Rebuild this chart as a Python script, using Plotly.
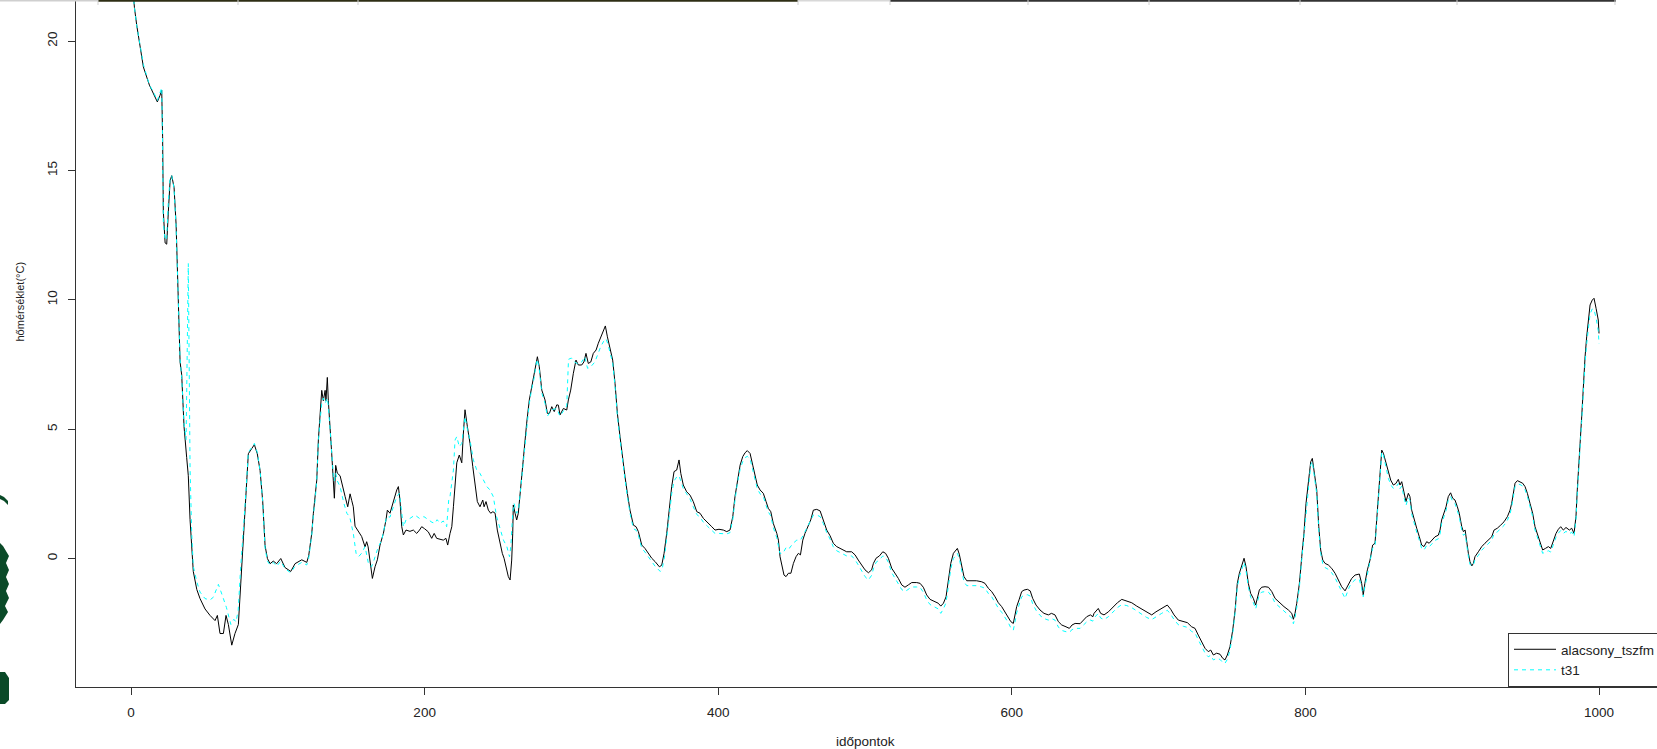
import plotly.graph_objects as go

# ---------------- data ----------------
series_names = ["alacsony_tszfm", "t31"]

alacsony_t = [1, 2.3, 3.9, 6.6, 8.4, 12.5, 15.2, 17.9, 19.7, 20.9, 21.5, 22.0, 23.2, 24.3, 25.4, 26.6, 27.7, 29.3, 30.7, 31.5,
    32.7, 33.4, 34.5, 35.2, 36.1, 37.9, 39.0, 40.2, 41.3, 42.4, 44.8, 47, 50.4, 53.8, 57.2, 58.8, 60.6, 62.9, 64.7, 66.3,
    68.6, 70.8, 73.1, 74.7, 77, 78.3, 79.9, 82.2, 84, 86, 87.9, 89.7, 91.3, 92.9, 94.7, 96.9, 99.2, 102, 104.9, 108.8,
    111.7, 116.3, 119.7, 121, 123.1, 124.2, 125.3, 126.5, 127.6, 128.7, 129.9, 131, 132.2, 132.8, 133.7, 134.4, 135.6, 136.7, 137.8, 138.5,
    139.4, 140.5, 142.4, 143.5, 145.8, 147.6, 149.2, 150.3, 151.4, 152.6, 154.2, 157.1, 159.4, 160.5, 161.5, 162.8, 164.4, 166.2, 167.8, 169.6,
    171.9, 173.7, 174.6, 176.4, 178.3, 179.8, 181, 182.1, 183.2, 184.4, 185.5, 187.3, 190, 192.3, 194.6, 196.5, 198, 200, 202.5, 204.8,
    206.5, 208.2, 210.5, 212.7, 214.5, 215.7, 217.3, 218.5, 219.6, 220.7, 221.9, 223.6, 225.3, 226.4, 227.5, 229.1, 230.9, 232.8, 234.3, 235.9,
    237.7, 239.6, 240.5, 241.8, 243.4, 245, 246.5, 248, 249.5, 251.4, 252.9, 254.1, 255.4, 257, 258.2, 259.3, 260, 260.4, 261.6, 262.7,
    263.8, 265, 266.1, 267.7, 269.5, 271.3, 272.9, 274.5, 275.9, 276.8, 278.1, 279.8, 282, 283.6, 285, 286.6, 288.3, 290, 291.1, 292.2,
    294.5, 296.8, 297.9, 299.5, 301.3, 303.1, 304.7, 307, 308.5, 309.9, 311.5, 313.2, 314.9, 316.8, 318.3, 320, 321.7, 323.1, 324.5, 326.3,
    328.1, 329.7, 331.3, 333.1, 334.9, 336.5, 338.1, 339.9, 342.2, 344, 345.6, 347.9, 350.1, 352.4, 354.7, 357, 359.9, 361.5, 363.1, 364.9,
    366.7, 368.3, 369.9, 371.7, 373.3, 374.5, 376.2, 378.5, 380.8, 383, 385.4, 387.6, 389.9, 392.6, 395.6, 397.8, 400.5, 403.5, 405.8, 408,
    409.9, 411.4, 413, 414.9, 416.7, 418.3, 419.8, 421.7, 423.5, 425.1, 426.6, 428.5, 430.7, 432.6, 434.1, 435.8, 437.5, 439.9, 441, 442.1,
    443.3, 444.8, 446.2, 447.8, 449.5, 451.2, 453, 454.6, 456, 457.6, 459.1, 461.4, 463, 464.8, 467.1, 469.4, 471.6, 473.9, 476.2, 478.4,
    480.7, 484.1, 487.5, 490.9, 493.2, 495.4, 497.7, 500, 502.3, 504.5, 505.7, 507.5, 509.8, 512.1, 514, 515.9, 518.2, 520.4, 522.7, 525,
    527.2, 529.5, 531.8, 535.2, 537.5, 539.7, 542, 544.3, 547.7, 549.9, 551.6, 553.4, 555.2, 556.7, 558.4, 560.2, 562, 562.9, 564.2, 565.9,
    567.4, 569.3, 572.7, 576, 579.5, 581.7, 584, 586.3, 588.6, 590.8, 593.1, 595.4, 597.6, 599.3, 601, 602, 603.3, 604.9, 606.7, 608.3,
    610.6, 612.5, 614.2, 616.5, 619.2, 621.9, 624.9, 627, 629.4, 631.7, 634, 636.9, 639.2, 641, 643.1, 646.5, 648.7, 651, 653.5, 655.2,
    656, 657.8, 658.9, 660.5, 662.8, 665.8, 669.1, 671.9, 674.9, 678.3, 681.7, 685.1, 688.5, 691.9, 695.3, 698.2, 702.1, 705.9, 708.2, 710.5,
    713.4, 716.8, 719.6, 722.5, 724.8, 727, 729.3, 731.6, 733.8, 735.5, 737.3, 739.5, 741.8, 743.7, 745.2, 746.8, 748.6, 750.5, 752.1, 753.6,
    755, 756.6, 758.2, 759.5, 761.1, 762.7, 764.5, 766.1, 767.2, 768.6, 770.2, 772.5, 774.8, 777.1, 779.3, 782.7, 785.4, 788.4, 790.7, 791.8,
    792.9, 794.1, 795.9, 797.5, 799, 800.4, 802, 803.6, 804.7, 805.9, 807.7, 809.1, 810.4, 811.8, 813.4, 815.6, 817.9, 820.2, 822.4, 824.7,
    827, 829.9, 831.5, 833.8, 836.7, 838.3, 839.4, 840.5, 842.2, 844, 845.8, 847.4, 848.6, 849.7, 850.8, 852, 853.1, 854.9, 856.5, 858.1,
    859.9, 861.6, 863.3, 864.4, 865.6, 867.2, 868.5, 870.1, 871.2, 872.4, 874, 875.8, 877.6, 879.2, 880.8, 882.6, 884.3, 886, 888.3, 890.5,
    891.7, 892.8, 894.4, 895.8, 897.3, 898.9, 900.3, 901.9, 903.5, 904.8, 906.5, 907.6, 908.8, 909.9, 911, 912.1, 913.3, 914.4, 915.5, 917.8,
    920.1, 922.3, 924.6, 926.9, 928.5, 930.7, 933, 935.3, 937.6, 939.4, 940.5, 941.6, 942.8, 944.4, 946.2, 948, 949.6, 951.2, 953, 954.8,
    956.4, 957.6, 958.7, 960.3, 961.6, 963.5, 965.5, 967.1, 968.9, 970.7, 972.3, 973.9, 975.7, 977.5, 979.8, 981.4, 983, 984.3, 985.2, 985.9,
    987.1, 988.2, 989.3, 990.5, 991.6, 992.7, 993.9, 995.4, 996.6, 998, 999.5, 1000]

alacsony_v = [22.2, 21.3, 20.6, 19.55, 19.0, 18.3, 18.0, 17.65, 17.9, 18.1, 16.3, 13.4, 12.2, 12.15, 13.4, 14.6, 14.8, 14.35, 12.9, 11.4,
    8.8, 7.6, 7.1, 6.3, 5.1, 3.9, 3.2, 1.5, 0.3, -0.5, -1.2, -1.55, -1.95, -2.2, -2.4, -2.2, -2.9, -2.9, -2.2, -2.55,
    -3.35, -2.9, -2.55, -1.05, 1.2, 2.55, 4.05, 4.25, 4.4, 4.05, 3.4, 2.2, 0.5, 0.0, -0.2, -0.1, -0.2, 0.0, -0.35, -0.5,
    -0.2, -0.05, -0.15, 0.1, 0.97, 1.75, 2.26, 3.03, 4.58, 5.48, 6.5, 6.1, 6.5, 6.1, 7.0, 6.1, 5.2, 4.05, 3.0, 2.33,
    3.6, 3.3, 3.2, 2.9, 2.4, 2.0, 2.5, 2.25, 2.0, 1.25, 1.1, 0.85, 0.45, 0.65, 0.45, -0.2, -0.77, -0.32, -0.05, 0.52,
    0.97, 1.5, 1.87, 1.75, 2.13, 2.4, 2.65, 2.78, 2.26, 1.23, 0.91, 1.1, 1.05, 1.1, 0.97, 1.1, 1.23, 1.15, 1.03, 0.78,
    0.97, 0.78, 0.74, 0.71, 0.78, 0.52, 0.97, 1.23, 2.0, 2.9, 3.7, 4.0, 3.7, 4.85, 5.75, 5.1, 4.45, 3.55, 2.78, 2.2,
    2.0, 2.26, 2.0, 2.2, 1.87, 1.75, 1.81, 1.75, 1.1, 0.59, 0.2, 0.01, -0.32, -0.7, -0.83, -0.06, 0.97, 2.07, 1.75, 1.49,
    1.75, 2.52, 3.29, 4.19, 5.23, 6.13, 6.64, 7.03, 7.61, 7.8, 7.41, 6.51, 6.13, 5.61, 5.61, 5.87, 5.68, 5.94, 5.93, 5.55,
    5.8, 5.74, 6.13, 6.51, 7.16, 7.67, 7.48, 7.48, 7.6, 7.93, 7.54, 7.6, 7.93, 8.06, 8.32, 8.57, 8.77, 8.99, 8.57, 8.06,
    7.67, 6.77, 5.61, 4.71, 3.81, 3.16, 2.52, 1.87, 1.29, 1.23, 1.04, 0.52, 0.39, 0.2, 0.01, -0.12, -0.32, -0.26, 0.2, 0.97,
    2.0, 2.78, 3.36, 3.42, 3.81, 3.29, 2.84, 2.58, 2.45, 2.2, 1.81, 1.75, 1.55, 1.38, 1.23, 1.1, 1.13, 1.1, 1.04, 1.1,
    1.62, 2.39, 3.03, 3.61, 3.94, 4.09, 4.17, 4.06, 3.61, 3.16, 2.84, 2.65, 2.52, 2.2, 1.94, 1.81, 1.36, 0.97, 0.71, 0.07,
    -0.32, -0.64, -0.7, -0.57, -0.57, -0.19, 0.07, 0.2, 0.14, 0.71, 0.97, 1.29, 1.49, 1.87, 1.9, 1.84, 1.49, 1.1, 0.88, 0.59,
    0.46, 0.36, 0.26, 0.26, 0.14, -0.06, -0.25, -0.44, -0.55, -0.44, -0.19, 0.01, 0.1, 0.26, 0.2, 0.01, -0.38, -0.57, -0.77, -1.02,
    -1.11, -1.02, -0.93, -0.93, -0.96, -1.11, -1.41, -1.58, -1.67, -1.73, -1.84, -1.73, -1.48, -0.83, -0.19, 0.2, 0.33, 0.39, 0.17, -0.32,
    -0.7, -0.86, -0.86, -0.86, -0.9, -0.96, -1.15, -1.28, -1.48, -1.71, -1.86, -2.06, -2.25, -2.44, -2.51, -2.25, -1.86, -1.6, -1.28, -1.22,
    -1.19, -1.25, -1.54, -1.8, -1.99, -2.12, -2.18, -2.12, -2.18, -2.44, -2.57, -2.64, -2.7, -2.57, -2.51, -2.52, -2.38, -2.25, -2.18, -2.25,
    -2.12, -1.99, -1.93, -2.12, -2.18, -2.06, -1.86, -1.71, -1.58, -1.63, -1.71, -1.84, -1.96, -2.09, -2.18, -2.06, -1.93, -1.8, -1.96, -2.18,
    -2.38, -2.44, -2.48, -2.64, -2.7, -2.96, -3.22, -3.47, -3.6, -3.54, -3.73, -3.66, -3.7, -3.86, -3.92, -3.73, -3.41, -2.76, -1.99, -0.96,
    -0.57, -0.25, 0.01, -0.31, -0.96, -1.35, -1.54, -1.8, -1.48, -1.22, -1.11, -1.09, -1.11, -1.28, -1.54, -1.73, -1.86, -1.99, -2.12, -2.35,
    -2.12, -1.73, -0.96, 0.07, 0.97, 2.13, 3.03, 3.74, 3.87, 3.42, 2.65, 1.23, 0.33, -0.06, -0.19, -0.25, -0.38, -0.57, -0.83, -1.09,
    -1.25, -0.9, -0.77, -0.64, -0.6, -0.96, -1.41, -0.96, -0.44, -0.06, 0.52, 0.59, 1.62, 2.65, 3.55, 4.19, 4.07, 3.68, 3.29, 3.03,
    2.84, 2.9, 3.06, 2.84, 2.97, 2.52, 2.2, 2.52, 2.39, 1.87, 1.49, 1.17, 0.84, 0.52, 0.46, 0.65, 0.59, 0.71, 0.84, 0.9,
    1.1, 1.49, 1.75, 2.0, 2.39, 2.54, 2.33, 2.26, 2.0, 1.75, 1.23, 1.04, 1.1, 0.59, 0.2, -0.12, -0.29, -0.19, 0.07, 0.26,
    0.46, 0.59, 0.71, 0.84, 1.1, 1.17, 1.29, 1.42, 1.62, 1.87, 2.13, 2.52, 2.91, 3.01, 2.97, 2.91, 2.78, 2.52, 2.13, 1.75,
    1.23, 1.04, 0.84, 0.59, 0.33, 0.39, 0.46, 0.39, 0.71, 0.97, 1.13, 1.23, 1.1, 1.2, 1.1, 1.17, 0.97, 1.62, 2.65, 3.55,
    4.45, 5.48, 6.77, 7.8, 8.57, 9.22, 9.8, 9.99, 10.06, 9.67, 9.22, 8.7]

t31_t = [1, 2.3, 3.9, 6.6, 8.4, 12.5, 15.2, 17.9, 19.7, 20.9, 21.5, 22.0, 23.2, 24.3, 25.4, 26.6, 27.7, 29.3, 30.7, 31.5,
    32.7, 33.4, 34.5, 35.2, 36.1, 37.5, 38.5, 39.0, 39.6, 40.2, 41.3, 42.4, 44.8, 47, 50.4, 53.8, 56, 57.5, 59.5, 62,
    65, 68, 70, 71.5, 73, 74.5, 77, 78.3, 79.9, 82.2, 84, 86, 87.9, 89.7, 91.3, 92.9, 94.7, 96.9, 99.2, 102,
    104.9, 108.8, 111.7, 116.3, 119.7, 121, 123.1, 124.2, 125.3, 126.5, 127.6, 128.7, 129.9, 131, 132.2, 133.7, 134.4, 135.6, 136.7, 137.8,
    138.5, 139.4, 140.5, 142.4, 145, 147, 149, 151.4, 153.3, 155, 157, 159.4, 161.7, 163.8, 165.5, 168.5, 170.8, 174.1, 176.4, 178.3,
    181, 182.8, 184.4, 185.5, 187.3, 190, 193.4, 196.5, 199.5, 202.5, 205, 207, 208.5, 210.5, 212.7, 215, 216.4, 217.3, 219.6, 220.7,
    221.9, 223.6, 225.3, 226.4, 227.5, 229.1, 230.9, 233.2, 235.5, 237.7, 240.1, 242.4, 244.5, 246.8, 249, 251.4, 253.7, 256, 257.8, 258.7,
    260, 260.9, 262.7, 264, 265, 266.1, 267.7, 269.5, 271.3, 272.9, 274.5, 275.9, 276.8, 278.1, 279.8, 282, 283.6, 286.6, 290, 292.2,
    294.5, 296.8, 298, 300, 302, 305, 307, 309, 311, 313, 316, 318, 320, 322, 323.5, 324.8, 326.3, 328.1, 329.7, 331.3,
    333.1, 334.9, 336.5, 338.1, 339.9, 342.2, 344, 345.6, 347.9, 350.1, 352.4, 354.7, 357, 360.5, 362, 363.5, 364.9, 366.7, 368.3, 369.9,
    371.7, 373.3, 374.5, 376.2, 378.5, 380.8, 383, 385.4, 387.6, 389.9, 392.6, 395.6, 397.8, 400.5, 403.5, 405.8, 408, 409.9, 411.4, 413,
    414.9, 416.7, 418.3, 419.8, 421.7, 423.5, 425.1, 426.6, 428.5, 430.7, 432.6, 434.1, 435.8, 437.5, 439.9, 442, 444, 446.6, 448.5, 451,
    453.5, 456, 458, 460.6, 464.8, 467.1, 469.4, 471.6, 473.9, 476.2, 478.4, 480.7, 484.1, 487.5, 490.9, 493.2, 495.4, 497.7, 500, 502.3,
    504.5, 505.7, 507.5, 509.8, 512.1, 514, 515.9, 518.2, 520.4, 522.7, 525, 527.2, 529.5, 531.8, 535.2, 537.5, 539.7, 542, 544.3, 547.7,
    549.9, 551.6, 553.4, 555.2, 556.7, 558.4, 560.2, 562, 562.9, 564.2, 565.9, 567.4, 569.3, 572.7, 576, 579.5, 581.7, 584, 586.3, 588.6,
    590.8, 593.1, 595.4, 597.6, 599.3, 601, 602, 603.3, 604.9, 606.7, 608.3, 610.6, 612.5, 614.2, 616.5, 619.2, 621.9, 624.9, 627, 629.4,
    631.7, 634, 636.9, 639.2, 641, 643.1, 646.5, 648.7, 651, 653.5, 655.2, 656, 657.8, 658.9, 660.5, 662.8, 665.8, 669.1, 671.9, 674.9,
    678.3, 681.7, 685.1, 688.5, 691.9, 695.3, 698.2, 702.1, 705.9, 708.2, 710.5, 713.4, 716.8, 719.6, 722.5, 724.8, 727, 729.3, 731.6, 733.8,
    735.5, 737.3, 739.5, 741.8, 743.7, 745.2, 746.8, 748.6, 750.5, 752.1, 753.6, 755, 756.6, 758.2, 759.5, 761.1, 762.7, 764.5, 766.1, 767.2,
    768.6, 770.2, 772.5, 774.8, 777.1, 779.3, 782.7, 785.4, 788.4, 790.7, 791.8, 792.9, 794.1, 795.9, 797.5, 799, 800.4, 802, 803.6, 804.7,
    805.9, 807.7, 809.1, 810.4, 811.8, 813.4, 815.6, 817.9, 820.2, 822.4, 824.7, 827, 829.9, 831.5, 833.8, 836.7, 838.3, 839.4, 840.5, 842.2,
    844, 845.8, 847.4, 848.6, 849.7, 850.8, 852, 853.1, 854.9, 856.5, 858.1, 859.9, 861.6, 863.3, 864.4, 865.6, 867.2, 868.5, 870.1, 871.2,
    872.4, 874, 875.8, 877.6, 879.2, 880.8, 882.6, 884.3, 886, 888.3, 890.5, 891.7, 892.8, 894.4, 895.8, 897.3, 898.9, 900.3, 901.9, 903.5,
    904.8, 906.5, 907.6, 908.8, 909.9, 911, 912.1, 913.3, 914.4, 915.5, 917.8, 920.1, 922.3, 924.6, 926.9, 928.5, 930.7, 933, 935.3, 937.6,
    939.4, 940.5, 941.6, 942.8, 944.4, 946.2, 948, 949.6, 951.2, 953, 954.8, 956.4, 957.6, 958.7, 960.3, 961.6, 963.5, 965.5, 967.1, 968.9,
    970.7, 972.3, 973.9, 975.7, 977.5, 979.8, 981.4, 983, 984.3, 985.2, 985.9, 987.1, 988.2, 989.3, 990.5, 991.6, 992.7, 993.9, 995.4, 996.6,
    998, 999.5, 1000]

t31_v = [22.2, 21.3, 20.6, 19.6, 19.1, 18.3, 18.05, 17.7, 18.0, 18.2, 16.0, 13.0, 12.3, 12.4, 13.8, 14.7, 14.8, 14.3, 12.8, 11.3,
    8.9, 7.7, 7.0, 6.3, 5.2, 4.6, 8.0, 11.4, 7.5, 3.5, 1.0, -0.3, -0.9, -1.3, -1.55, -1.6, -1.5, -1.25, -1.0, -1.4,
    -1.9, -2.55, -2.35, -2.45, -2.0, -0.5, 1.3, 2.6, 4.1, 4.3, 4.45, 4.1, 3.4, 2.2, 0.4, -0.1, -0.25, -0.15, -0.3, -0.1,
    -0.4, -0.55, -0.3, -0.15, -0.25, 0.0, 0.9, 1.7, 2.2, 3.0, 4.5, 5.3, 6.0, 6.2, 6.0, 6.2, 5.9, 5.0, 4.0, 3.2,
    3.0, 3.3, 3.0, 2.78, 2.13, 1.75, 1.6, 0.97, 0.2, 0.07, 0.2, 0.46, -0.19, -0.32, -0.06, 0.46, 0.71, 1.62, 1.6, 1.9,
    2.39, 2.52, 1.75, 1.23, 1.49, 1.55, 1.68, 1.55, 1.62, 1.5, 1.4, 1.36, 1.5, 1.36, 1.45, 1.23, 2.26, 2.4, 3.42, 4.58,
    4.71, 4.32, 4.45, 4.97, 5.48, 5.0, 4.58, 3.81, 3.42, 3.29, 3.03, 2.78, 2.65, 2.39, 1.62, 1.1, 0.71, 0.46, 0.07, 0.46,
    1.75, 2.13, 1.75, 1.9, 2.45, 3.2, 4.1, 5.15, 6.0, 6.55, 6.95, 7.5, 7.7, 7.3, 6.4, 6.0, 5.5, 5.75, 5.8, 5.5,
    5.7, 5.9, 7.7, 7.75, 7.6, 7.5, 7.6, 7.8, 7.35, 7.4, 7.6, 7.9, 8.2, 8.4, 8.5, 8.3, 7.9, 7.55, 6.65, 5.5,
    4.6, 3.7, 3.05, 2.4, 1.75, 1.15, 1.1, 0.9, 0.4, 0.25, 0.05, -0.15, -0.3, -0.5, -0.35, 0.1, 0.8, 1.8, 2.5, 3.0,
    3.15, 3.2, 3.0, 2.7, 2.5, 2.3, 2.0, 1.7, 1.6, 1.4, 1.25, 1.1, 0.97, 0.97, 0.95, 0.95, 1.0, 1.5, 2.25, 2.9,
    3.45, 3.75, 3.9, 3.95, 3.85, 3.45, 3.0, 2.7, 2.5, 2.4, 2.05, 1.8, 1.65, 1.2, 0.8, 0.2, 0.2, 0.46, 0.4, 0.59,
    0.71, 0.71, 0.91, 1.23, 1.68, 1.68, 1.62, 1.35, 1.0, 0.75, 0.45, 0.3, 0.2, 0.1, 0.1, -0.05, -0.25, -0.5, -0.7, -0.83,
    -0.65, -0.4, -0.15, -0.05, 0.1, 0.05, -0.15, -0.55, -0.75, -0.95, -1.2, -1.28, -1.2, -1.1, -1.1, -1.12, -1.3, -1.6, -1.78, -1.88,
    -1.95, -2.12, -1.95, -1.7, -1.05, -0.4, 0.0, 0.15, 0.2, 0.0, -0.5, -0.9, -1.05, -1.05, -1.05, -1.1, -1.15, -1.35, -1.48, -1.7,
    -1.92, -2.08, -2.28, -2.48, -2.68, -2.77, -2.5, -2.1, -1.8, -1.48, -1.42, -1.4, -1.45, -1.75, -2.0, -2.2, -2.32, -2.38, -2.32, -2.38,
    -2.65, -2.78, -2.83, -2.85, -2.75, -2.7, -2.7, -2.58, -2.45, -2.38, -2.42, -2.3, -2.18, -2.12, -2.3, -2.36, -2.25, -2.05, -1.9, -1.78,
    -1.82, -1.9, -2.02, -2.15, -2.28, -2.36, -2.25, -2.12, -2.0, -2.15, -2.36, -2.56, -2.62, -2.66, -2.82, -2.88, -3.14, -3.4, -3.65, -3.8,
    -3.74, -3.92, -3.86, -3.9, -4.02, -4.05, -3.9, -3.55, -2.9, -2.1, -1.1, -0.7, -0.4, -0.15, -0.45, -1.1, -1.5, -1.7, -1.95, -1.65,
    -1.4, -1.3, -1.28, -1.3, -1.46, -1.72, -1.9, -2.04, -2.17, -2.3, -2.52, -2.3, -1.9, -1.1, -0.05, 0.85, 2.0, 2.9, 3.62, 3.75,
    3.3, 2.5, 1.1, 0.2, -0.2, -0.35, -0.42, -0.55, -0.75, -1.0, -1.3, -1.54, -1.1, -0.95, -0.82, -0.8, -1.15, -1.48, -1.1, -0.6,
    -0.2, 0.4, 0.45, 1.5, 2.55, 3.45, 4.12, 4.0, 3.55, 3.1, 2.85, 2.71, 2.75, 2.9, 2.7, 2.8, 2.35, 2.05, 2.35, 2.25,
    1.72, 1.35, 1.02, 0.7, 0.38, 0.33, 0.5, 0.45, 0.55, 0.7, 0.76, 0.95, 1.35, 1.6, 1.85, 2.25, 2.4, 2.2, 2.12, 1.85,
    1.6, 1.1, 0.9, 0.95, 0.45, 0.08, -0.22, -0.3, -0.25, -0.05, 0.12, 0.32, 0.45, 0.58, 0.7, 0.95, 1.03, 1.15, 1.28, 1.48,
    1.72, 2.0, 2.4, 2.78, 2.88, 2.86, 2.8, 2.66, 2.4, 2.0, 1.62, 1.1, 0.9, 0.7, 0.45, 0.2, 0.25, 0.3, 0.25, 0.55,
    0.82, 0.98, 1.08, 0.97, 1.05, 0.95, 1.02, 0.85, 1.5, 2.5, 3.4, 4.3, 5.3, 6.55, 7.55, 8.3, 8.95, 9.45, 9.65, 9.62,
    9.3, 8.8, 8.3]

x_ticks = [0, 200, 400, 600, 800, 1000]
y_ticks = [0, 5, 10, 15, 20]
x_title = "időpontok"
y_title = "hőmérséklet(°C)"

# ---------------- geometry helpers (layout only) ----------------
W, H = 1657, 749
ML, MB = 76, 62
PW, PH = W - ML, H - MB


def px2x(px):
    return (px - ML) / PW


def py2y(py):
    return (PH - py) / PH


FONT = "Liberation Sans, Arial, sans-serif"
TXT = "#222222"

fig = go.Figure()
fig.add_trace(go.Scatter(x=alacsony_t, y=alacsony_v, mode="lines", name=series_names[0],
                         line=dict(color="#000000", width=1)))
fig.add_trace(go.Scatter(x=t31_t, y=t31_v, mode="lines", name=series_names[1],
                         line=dict(color="#00FFFF", width=1, dash="4px,4px")))

axis_common = dict(showgrid=False, zeroline=False, showline=True, linecolor="#333333", linewidth=1,
                   ticks="outside", ticklen=7, tickwidth=1, tickcolor="#333333",
                   tickfont=dict(family=FONT, size=13.5, color=TXT))

fig.update_xaxes(range=[-37.5, 1039.5], tickmode="array", tickvals=x_ticks,
                 ticktext=[str(v) for v in x_ticks], ticklabelstandoff=6, **axis_common)
fig.update_yaxes(range=[-4.967, 21.59], tickmode="array", tickvals=y_ticks,
                 ticktext=[str(v) for v in y_ticks], tickangle=-90, ticklabelstandoff=6, **axis_common)

shapes = []
# screenshot artefact strip along the top edge
shapes.append(dict(type="rect", xref="paper", yref="paper", x0=px2x(0), x1=px2x(98), y0=py2y(0), y1=py2y(1.5),
                   fillcolor="#cfcfcf", line=dict(width=0), layer="above"))
shapes.append(dict(type="rect", xref="paper", yref="paper", x0=px2x(98), x1=px2x(798), y0=py2y(0), y1=py2y(1.8),
                   fillcolor="#2e2e14", line=dict(width=0), layer="above"))
shapes.append(dict(type="rect", xref="paper", yref="paper", x0=px2x(798), x1=px2x(890), y0=py2y(0), y1=py2y(1.5),
                   fillcolor="#d8d8d8", line=dict(width=0), layer="above"))
shapes.append(dict(type="rect", xref="paper", yref="paper", x0=px2x(890), x1=px2x(1616), y0=py2y(0), y1=py2y(1.8),
                   fillcolor="#333333", line=dict(width=0), layer="above"))
for tx in [98, 238, 358, 798, 890, 1028, 1149, 1300, 1457, 1615]:
    shapes.append(dict(type="line", xref="paper", yref="paper", x0=px2x(tx), x1=px2x(tx), y0=py2y(0), y1=py2y(5),
                       line=dict(color="#d0d0d0", width=1), layer="above"))

# partial green logo at the left edge
GREEN = "#0a4a28"


def path_from(points):
    return "M" + " L".join(f"{px2x(a):.5f},{py2y(b):.5f}" for a, b in points) + " Z"


shapes.append(dict(type="path", xref="paper", yref="paper",
                   path=path_from([(0, 495), (4, 497), (8, 501), (8, 505), (4, 501), (0, 499)]),
                   fillcolor=GREEN, line=dict(width=0), layer="above"))
shapes.append(dict(type="path", xref="paper", yref="paper",
                   path=path_from([(0, 543), (3, 546), (6, 551), (9, 556), (6, 563), (9, 570), (6, 577), (9, 584),
                                   (6, 591), (9, 598), (5, 606), (8, 612), (3, 620), (0, 624)]),
                   fillcolor=GREEN, line=dict(width=0), layer="above"))
shapes.append(dict(type="path", xref="paper", yref="paper",
                   path=path_from([(0, 672), (5, 672), (9, 678), (9, 700), (5, 704), (0, 704)]),
                   fillcolor=GREEN, line=dict(width=0), layer="above"))

annotations = [
    dict(text=x_title, xref="paper", yref="paper", x=px2x(865), y=py2y(741.5), xanchor="center", yanchor="middle",
         showarrow=False, font=dict(family=FONT, size=13.5, color=TXT)),
    dict(text=y_title, xref="paper", yref="paper", x=px2x(19.5), y=py2y(302), xanchor="center", yanchor="middle",
         textangle=-90, showarrow=False, font=dict(family=FONT, size=11, color=TXT)),
]

fig.update_layout(
    width=W, height=H,
    margin=dict(l=ML, r=0, t=0, b=MB, pad=0, autoexpand=False),
    paper_bgcolor="white", plot_bgcolor="white",
    showlegend=True,
    legend=dict(x=px2x(1508), y=0, xanchor="left", yanchor="bottom", bgcolor="white",
                bordercolor="#333333", borderwidth=1, font=dict(family=FONT, size=13.5, color=TXT),
                itemwidth=42, tracegroupgap=0),
    shapes=shapes, annotations=annotations,
)

fig.write_html("out.html")
